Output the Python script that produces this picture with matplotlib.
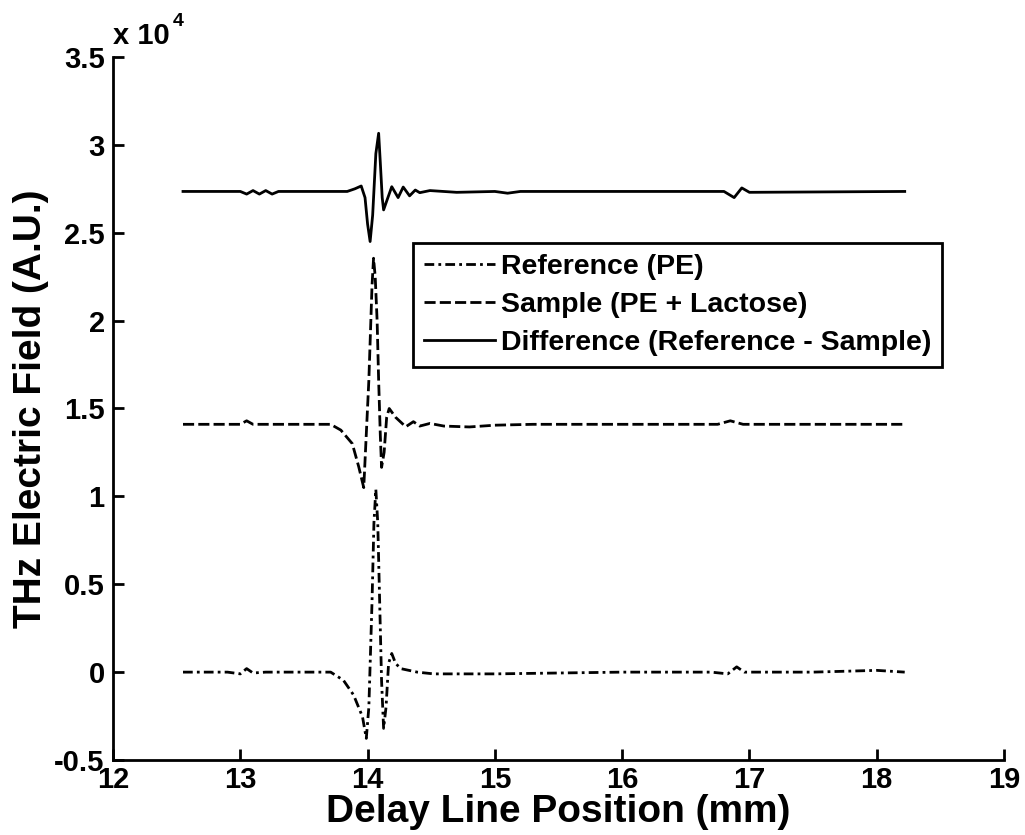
import matplotlib
matplotlib.use("Agg")
import matplotlib.pyplot as plt
from matplotlib.ticker import FuncFormatter

plt.rcParams['font.family'] = ['Liberation Sans', 'DejaVu Sans']
plt.rcParams['font.weight'] = 'bold'

# values in units of 1e4 (A.U.), x in mm
ref_x = [12.55, 12.9, 13.0, 13.05, 13.1, 13.2, 13.5, 13.71, 13.81, 13.89, 13.96, 13.99,
         14.01, 14.035, 14.05, 14.065, 14.08, 14.095, 14.11, 14.126, 14.145, 14.165,
         14.19, 14.22, 14.26, 14.39, 14.52, 15.0, 15.5, 16.0, 16.7, 16.83, 16.9, 16.96,
         17.1, 17.5, 18.0, 18.22]
ref_y = [0.0, 0.0, -0.01, 0.02, -0.005, 0.0, 0.0, 0.0, -0.046, -0.13, -0.254, -0.377,
         -0.2, 0.4, 0.85, 1.04, 0.85, 0.4, -0.05, -0.32, -0.2, 0.05,
         0.106, 0.05, 0.02, 0.0, -0.01, -0.01, -0.005, 0.0, 0.0, -0.01, 0.03, 0.0,
         0.0, 0.0, 0.01, 0.0]

smp_x = [12.55, 13.0, 13.05, 13.1, 13.71, 13.79, 13.88, 13.93, 13.97, 14.01, 14.035,
         14.047, 14.06, 14.075, 14.087, 14.10, 14.11, 14.13, 14.15, 14.17, 14.22, 14.30,
         14.36, 14.41, 14.49, 14.6, 14.8, 15.0, 15.3, 16.0, 16.75, 16.85, 16.95, 18.22]
smp_y = [1.41, 1.41, 1.43, 1.41, 1.41, 1.377, 1.30, 1.17, 1.05, 1.66, 2.2,
         2.355, 2.25, 2.0, 1.66, 1.35, 1.165, 1.25, 1.45, 1.50, 1.45, 1.396,
         1.425, 1.40, 1.415, 1.40, 1.395, 1.405, 1.41, 1.41, 1.41, 1.43, 1.41, 1.41]

dif_x = [12.55, 13.0, 13.05, 13.1, 13.15, 13.2, 13.25, 13.3, 13.84, 13.9, 13.95, 13.98,
         14.0, 14.02, 14.04, 14.065, 14.087, 14.10, 14.115, 14.126, 14.15, 14.19, 14.24,
         14.28, 14.33, 14.375, 14.41, 14.49, 14.7, 15.0, 15.1, 15.2, 15.5, 16.0, 16.8,
         16.88, 16.94, 17.0, 18.22]
dif_y = [2.735, 2.735, 2.72, 2.74, 2.72, 2.74, 2.72, 2.735, 2.735, 2.75, 2.766, 2.70,
         2.55, 2.45, 2.6, 2.95, 3.066, 2.9, 2.7, 2.63, 2.68, 2.762, 2.70,
         2.76, 2.71, 2.743, 2.728, 2.74, 2.73, 2.735, 2.725, 2.735, 2.735, 2.735, 2.735,
         2.70, 2.755, 2.73, 2.735]

labels = ['Reference (PE)', 'Sample (PE + Lactose)', 'Difference (Reference - Sample)']

fig = plt.figure(figsize=(10.25, 8.35), dpi=100)
ax = fig.add_axes([113 / 1025, 75 / 835, 891 / 1025, 703 / 835])

ax.plot(ref_x, ref_y, color='black', lw=2, dashes=[3.5, 1.5, 1, 1.5], label=labels[0])
ax.plot(smp_x, smp_y, color='black', lw=2, dashes=[4, 1.5], label=labels[1])
ax.plot(dif_x, dif_y, color='black', lw=2, label=labels[2])

ax.set_xlim(12, 19)
ax.set_ylim(-0.5, 3.5)
ax.set_xticks(range(12, 20))
ax.set_yticks([-0.5, 0, 0.5, 1, 1.5, 2, 2.5, 3, 3.5])
ax.yaxis.set_major_formatter(FuncFormatter(lambda v, p: ('%g' % v)))

ax.spines['top'].set_visible(False)
ax.spines['right'].set_visible(False)
ax.spines['left'].set_linewidth(2)
ax.spines['bottom'].set_linewidth(2)
ax.tick_params(direction='in', length=8, width=2, labelsize=21, pad=6)
ax.tick_params(axis='x', pad=4)
for t in ax.get_xticklabels() + ax.get_yticklabels():
    t.set_fontweight('bold')

ax.set_xlabel('Delay Line Position (mm)', fontsize=28, fontweight='bold', labelpad=0)
ax.set_ylabel('THz Electric Field (A.U.)', fontsize=28, fontweight='bold', labelpad=4)

# exponent label like matlab
fig.text(113 / 1025, 1 - 36 / 835, 'x 10', fontsize=21, fontweight='bold', va='center')
fig.text(173 / 1025, 1 - 21 / 835, '4', fontsize=14, fontweight='bold', va='center')

leg = ax.legend(loc='upper left', bbox_to_anchor=((413 - 113) / 891, (760 - 243) / 703),
                fontsize=20.5, frameon=True, fancybox=False, framealpha=1,
                edgecolor='black', handlelength=2.5, handletextpad=0.2,
                labelspacing=0.42, borderpad=0.38, borderaxespad=0)
leg.get_frame().set_linewidth(2)
for t in leg.get_texts():
    t.set_fontweight('bold')

fig.savefig('out.png', dpi=100)
